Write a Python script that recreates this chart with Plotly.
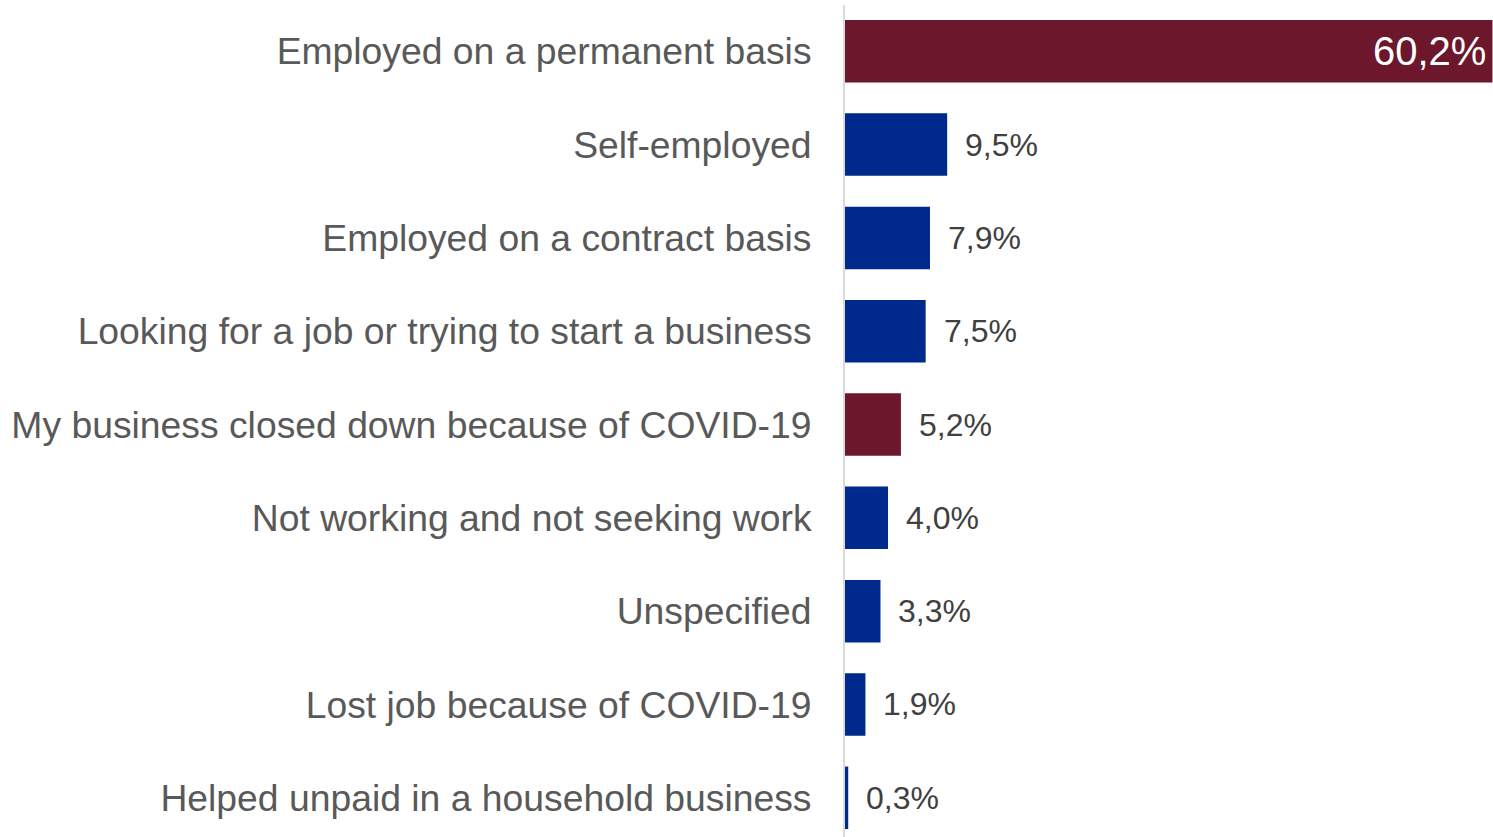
import plotly.graph_objects as go

# Employment status shares (%)
categories = [
    "Employed on a permanent basis",
    "Self-employed",
    "Employed on a contract basis",
    "Looking for a job or trying to start a business",
    "My business closed down because of COVID-19",
    "Not working and not seeking work",
    "Unspecified",
    "Lost job because of COVID-19",
    "Helped unpaid in a household business",
]
values = [60.2, 9.5, 7.9, 7.5, 5.2, 4.0, 3.3, 1.9, 0.3]
highlight = [True, False, False, False, True, False, False, False, False]

MAROON = "#6C172B"
BLUE = "#00298E"
FONT = "Liberation Sans, Arial, sans-serif"

positions = list(range(len(categories)))
colors = [MAROON if h else BLUE for h in highlight]


def fmt(v):
    return f"{v:.1f}".replace(".", ",") + "%"


fig = go.Figure(
    go.Bar(
        x=values,
        y=positions,
        orientation="h",
        marker=dict(color=colors, line=dict(width=0)),
        width=0.67,
        hoverinfo="skip",
    )
)

# value labels: largest bar labelled inside, the rest just past the bar end
annotations = []
for i, v in enumerate(values):
    if i == 0:
        annotations.append(dict(
            x=v, y=positions[i], xref="x", yref="y", text=fmt(v),
            showarrow=False, xanchor="right", xshift=-4,
            font=dict(family=FONT, size=40, color="#FFFFFF"),
        ))
    else:
        annotations.append(dict(
            x=v, y=positions[i], xref="x", yref="y", text=fmt(v),
            showarrow=False, xanchor="left", xshift=16,
            font=dict(family=FONT, size=32, color="#404040"),
        ))

fig.update_layout(
    width=1493,
    height=837,
    margin=dict(l=845, r=0, t=5, b=0),
    paper_bgcolor="white",
    plot_bgcolor="white",
    showlegend=False,
    bargap=0.33,
    annotations=annotations,
    xaxis=dict(
        range=[0, 60.25],
        visible=False,
        showgrid=False,
        zeroline=False,
    ),
    yaxis=dict(
        range=[8.42, -0.496],
        tickmode="array",
        tickvals=positions,
        ticktext=categories,
        tickfont=dict(family=FONT, size=37.3, color="#595959"),
        showline=True,
        linecolor="#D9D9D9",
        linewidth=2,
        showgrid=False,
        zeroline=False,
        ticks="",
        ticklabelstandoff=24,
        automargin=False,
    ),
)

fig.write_html("out.html")
